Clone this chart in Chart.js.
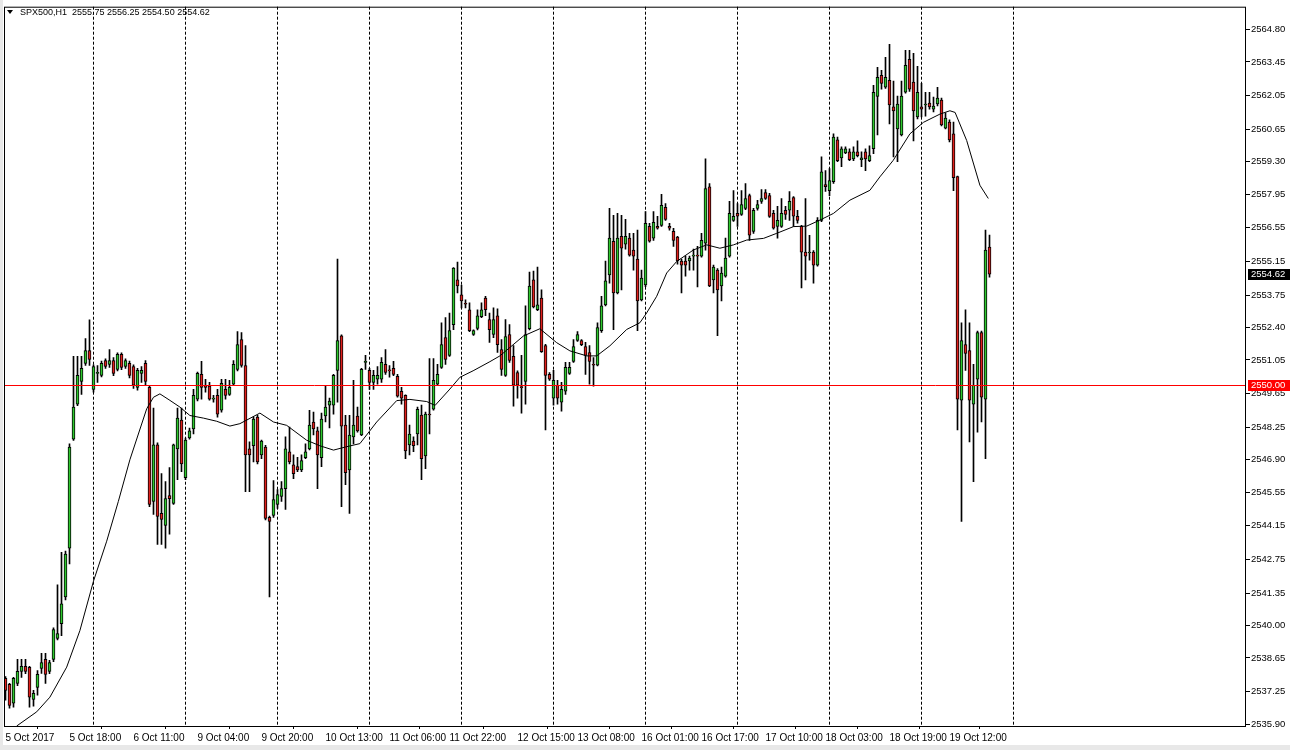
<!DOCTYPE html>
<html>
<head>
<meta charset="utf-8">
<script src="https://cdn.jsdelivr.net/npm/chart.js@4.4.1/dist/chart.umd.min.js"></script>
<style>
  html, body { margin: 0; padding: 0; background: #fff; }
  #wrap { width: 1290px; height: 750px; position: relative; }
</style>
</head>
<body>
<div id="wrap"><canvas id="chart"></canvas></div>
<script>
const symbol = "SPX500,H1";

// hourly candles, oldest first
const opens = [
  2537.80,2537.55,2536.77,2537.59,2538.09,2538.30,2538.26,2536.93,2537.43,2538.22,
  2538.59,2538.09,2538.59,2539.46,2540.08,2541.19,2543.22,2547.76,2549.21,2550.16,
  2550.91,2551.44,2549.83,2550.49,2550.41,2551.03,2550.87,2551.03,2550.66,2551.28,
  2550.78,2550.91,2550.78,2549.91,2550.49,2550.91,2549.91,2545.16,2547.52,2544.67,
  2544.17,2545.41,2545.08,2547.35,2548.55,2546.15,2547.81,2548.18,2549.42,2550.45,
  2550.00,2549.96,2549.42,2549.58,2548.96,2549.83,2549.62,2550.04,2550.66,2551.90,
  2550.82,2547.35,2547.48,2548.67,2547.10,2547.43,2544.50,2544.58,2545.04,2545.37,
  2545.70,2547.23,2546.69,2546.61,2546.48,2546.98,2547.35,2548.47,2548.10,2546.98,
  2548.72,2549.17,2549.17,2550.62,2552.06,2548.34,2546.48,2547.85,2548.72,2547.93,
  2550.95,2550.62,2550.12,2550.25,2550.25,2550.87,2550.62,2550.70,2550.37,2549.75,
  2549.58,2547.52,2547.68,2547.97,2548.76,2547.06,2548.80,2549.00,2550.04,2550.74,
  2551.98,2551.24,2552.52,2554.38,2553.76,2553.39,2553.14,2552.11,2552.36,2552.85,
  2553.63,2552.73,2552.11,2552.89,2551.48,2550.41,2552.11,2551.20,2550.53,2549.92,
  2550.16,2552.35,2554.38,2553.14,2553.63,2551.65,2550.45,2549.46,2550.00,2549.29,
  2549.75,2550.49,2550.99,2551.86,2551.86,2551.61,2551.36,2550.87,2550.83,2552.27,
  2553.34,2554.59,2555.99,2553.84,2556.20,2555.87,2556.12,2555.62,2555.25,2553.55,
  2554.17,2556.61,2556.12,2556.61,2556.65,2557.40,2556.61,2556.40,2556.16,2555.17,
  2555.17,2555.17,2555.37,2555.40,2555.37,2555.91,2558.26,2554.38,2554.79,2554.13,
  2554.54,2555.37,2556.86,2557.15,2557.11,2557.36,2557.89,2556.40,2557.36,2557.65,
  2558.02,2557.89,2557.15,2556.61,2556.61,2557.28,2557.28,2557.81,2557.03,2556.61,
  2555.54,2555.50,2555.54,2555.00,2556.86,2558.35,2558.10,2558.47,2560.21,2559.46,
  2559.67,2559.71,2559.42,2559.71,2559.38,2559.71,2559.34,2559.84,2562.02,2562.89,
  2562.40,2562.69,2561.58,2560.66,2560.41,2562.19,2563.56,2562.61,2561.16,2561.58,
  2561.66,2561.74,2561.49,2561.70,2561.86,2560.70,2560.95,2560.46,2558.68,2549.38,
  2551.69,2551.44,2549.21,2550.25,2552.19,2549.42,2555.75
];
const highs = [
  2537.88,2537.60,2537.85,2538.59,2538.59,2538.59,2538.30,2537.30,2538.13,2538.84,
  2538.84,2538.55,2539.90,2541.69,2543.05,2543.10,2547.56,2551.20,2551.20,2551.20,
  2551.94,2552.72,2550.85,2550.82,2551.00,2551.10,2551.48,2551.15,2551.35,2551.35,
  2551.10,2551.00,2550.85,2550.70,2550.78,2551.03,2549.95,2549.05,2547.60,2546.32,
  2545.99,2546.57,2547.55,2549.05,2549.05,2547.80,2548.22,2549.83,2550.55,2550.99,
  2550.24,2550.12,2549.58,2549.83,2550.24,2550.24,2550.20,2551.03,2552.23,2552.19,
  2551.65,2547.64,2548.67,2548.75,2547.72,2547.50,2544.55,2546.03,2545.66,2545.99,
  2547.85,2548.26,2547.10,2547.00,2547.10,2547.56,2548.96,2548.88,2548.26,2548.84,
  2550.00,2549.46,2550.45,2555.25,2552.10,2548.75,2548.75,2550.20,2549.09,2550.70,
  2551.24,2550.70,2550.62,2550.78,2551.15,2551.48,2550.82,2550.99,2550.45,2549.91,
  2549.60,2548.34,2547.85,2549.09,2549.17,2548.88,2551.11,2551.11,2550.87,2552.60,
  2552.81,2553.00,2554.90,2555.12,2554.17,2553.55,2553.43,2552.30,2553.14,2553.43,
  2553.70,2553.00,2553.22,2553.18,2551.90,2552.73,2552.52,2551.65,2550.60,2551.24,
  2553.30,2554.71,2554.75,2554.92,2553.97,2551.70,2550.53,2550.62,2550.20,2550.12,
  2550.95,2550.95,2551.90,2552.23,2551.90,2551.78,2551.65,2551.15,2552.60,2553.70,
  2555.17,2557.36,2557.07,2557.15,2557.07,2556.90,2556.32,2556.32,2556.45,2554.79,
  2557.23,2556.74,2557.23,2557.03,2557.94,2557.56,2556.74,2556.53,2556.20,2555.25,
  2555.37,2555.37,2555.66,2555.78,2556.32,2559.42,2558.39,2555.00,2554.85,2554.92,
  2556.12,2557.65,2558.10,2557.56,2558.10,2558.39,2557.95,2557.36,2557.69,2558.14,
  2558.14,2557.98,2557.28,2557.44,2557.77,2557.44,2558.06,2557.85,2557.28,2556.65,
  2557.77,2556.24,2555.60,2556.98,2559.50,2558.93,2559.01,2560.46,2560.33,2559.92,
  2559.92,2559.84,2559.92,2560.17,2559.71,2559.84,2559.96,2562.48,2563.23,2563.10,
  2563.64,2564.18,2562.65,2562.03,2562.65,2563.93,2563.93,2563.81,2563.27,2562.56,
  2562.19,2562.19,2561.99,2562.40,2561.95,2561.33,2561.04,2560.95,2558.70,2552.60,
  2553.14,2552.60,2550.87,2552.25,2552.25,2556.45,2556.25
];
const lows = [
  2536.89,2536.56,2536.60,2537.50,2537.84,2538.00,2536.60,2536.64,2537.10,2538.01,
  2537.59,2538.00,2538.50,2539.40,2539.58,2541.07,2542.56,2547.70,2549.15,2549.62,
  2550.82,2550.82,2549.71,2550.12,2550.35,2550.70,2550.74,2550.40,2550.60,2550.65,
  2550.70,2550.30,2549.87,2549.79,2550.12,2550.00,2544.95,2544.62,2543.38,2543.38,
  2543.22,2543.80,2545.04,2546.07,2546.40,2546.07,2547.75,2547.97,2549.35,2549.42,
  2549.71,2549.38,2549.29,2548.67,2548.88,2549.42,2549.58,2550.00,2550.60,2550.75,
  2545.57,2545.57,2546.81,2546.73,2546.94,2544.40,2541.19,2544.50,2544.87,2545.16,
  2544.83,2546.73,2546.11,2546.40,2546.40,2546.94,2547.31,2547.93,2545.70,2546.61,
  2548.47,2548.22,2548.80,2549.29,2544.95,2545.86,2544.67,2547.56,2548.05,2547.90,
  2550.66,2549.83,2549.83,2550.04,2550.12,2550.45,2550.33,2550.40,2549.50,2549.21,
  2546.94,2547.10,2547.23,2547.52,2546.07,2546.53,2547.97,2548.96,2550.00,2550.70,
  2550.87,2551.20,2552.31,2553.84,2553.22,2553.22,2552.23,2552.07,2552.30,2552.81,
  2552.89,2551.78,2551.98,2551.36,2550.41,2550.37,2550.95,2549.13,2549.46,2548.84,
  2549.21,2552.30,2553.22,2553.10,2551.36,2548.14,2550.20,2549.17,2549.21,2548.92,
  2549.62,2550.45,2550.95,2551.82,2551.65,2550.45,2550.04,2549.96,2550.80,2552.20,
  2553.30,2554.25,2552.31,2553.80,2553.97,2555.66,2555.37,2554.79,2552.27,2553.51,
  2554.10,2555.95,2556.03,2556.49,2556.61,2556.86,2556.45,2555.78,2555.04,2553.84,
  2554.54,2554.79,2554.79,2554.09,2555.33,2555.62,2554.10,2553.84,2552.06,2553.51,
  2554.50,2555.33,2556.82,2556.61,2557.07,2557.30,2556.03,2556.32,2557.28,2557.56,
  2557.73,2556.98,2556.49,2556.12,2556.57,2556.90,2556.86,2556.61,2556.74,2554.05,
  2554.38,2555.20,2554.25,2554.95,2556.80,2558.06,2557.89,2558.40,2559.30,2559.09,
  2559.63,2559.34,2559.34,2559.50,2559.09,2558.93,2559.30,2559.63,2560.41,2562.32,
  2562.35,2560.87,2559.50,2559.30,2560.37,2562.15,2562.23,2560.17,2561.08,2561.16,
  2561.20,2561.49,2561.37,2561.62,2560.79,2560.66,2560.12,2558.10,2548.14,2544.33,
  2550.62,2547.64,2545.99,2548.05,2548.47,2546.94,2554.50
];
const closes = [
  2537.30,2536.68,2537.80,2538.09,2538.30,2538.09,2537.02,2537.18,2537.97,2538.46,
  2537.97,2538.46,2539.83,2539.67,2540.90,2542.97,2547.43,2549.09,2550.41,2550.70,
  2551.44,2551.07,2550.78,2550.53,2550.91,2550.78,2551.03,2550.49,2551.28,2550.74,
  2551.03,2550.41,2550.00,2550.62,2550.62,2550.16,2545.04,2547.52,2544.54,2544.42,
  2545.28,2545.28,2547.52,2548.63,2546.73,2547.72,2548.10,2549.58,2550.49,2549.91,
  2549.91,2549.42,2549.45,2548.80,2550.08,2549.58,2549.91,2550.87,2551.69,2550.82,
  2547.10,2547.10,2548.59,2546.81,2547.68,2544.46,2544.33,2545.24,2545.45,2545.70,
  2547.35,2546.81,2546.32,2546.48,2546.86,2547.23,2548.34,2548.18,2547.10,2548.59,
  2549.09,2549.34,2550.41,2551.86,2548.30,2546.36,2547.93,2548.34,2548.10,2550.66,
  2550.99,2550.12,2550.41,2550.41,2550.95,2550.53,2550.60,2550.45,2549.54,2549.46,
  2547.27,2547.97,2547.48,2549.00,2546.94,2548.80,2548.76,2550.20,2550.45,2551.69,
  2551.07,2552.27,2554.87,2554.13,2553.51,2553.37,2552.27,2552.27,2552.89,2553.14,
  2553.14,2552.31,2552.73,2551.69,2550.66,2552.02,2551.03,2550.00,2550.00,2549.90,
  2552.11,2554.13,2553.26,2553.34,2551.40,2550.41,2550.25,2550.20,2549.46,2549.83,
  2550.74,2550.74,2551.61,2552.11,2551.69,2551.24,2550.99,2550.83,2552.40,2553.30,
  2554.34,2556.12,2553.84,2556.12,2555.70,2556.20,2555.41,2555.37,2553.51,2554.46,
  2556.74,2555.99,2556.78,2556.53,2557.48,2556.90,2556.53,2556.03,2555.17,2555.00,
  2555.00,2555.29,2555.40,2555.37,2556.03,2558.18,2554.13,2554.92,2553.97,2554.67,
  2555.29,2557.15,2557.03,2557.03,2557.52,2557.77,2556.24,2557.28,2557.52,2557.77,
  2557.77,2557.02,2556.53,2556.86,2557.15,2557.11,2557.65,2557.03,2556.86,2555.54,
  2555.37,2555.54,2555.00,2556.86,2558.88,2558.26,2558.51,2560.33,2559.34,2559.84,
  2559.84,2559.38,2559.71,2559.55,2559.46,2559.42,2559.55,2562.19,2562.81,2562.56,
  2562.81,2561.66,2561.41,2561.70,2562.03,2563.31,2562.32,2561.41,2562.19,2561.49,
  2561.68,2561.58,2561.62,2561.95,2560.83,2561.12,2560.21,2558.64,2549.42,2551.86,
  2551.32,2549.38,2550.00,2552.19,2549.50,2555.62,2554.62
];

// moving average, sampled along the curve (bar index, value)
const maBars = [
  2.8, 7.8, 11.1, 15.3, 18.6, 22.0, 25.3, 28.2, 31.1, 35.3, 37.0, 38.6, 41.1, 43.6,
  46.1, 49.5, 52.8, 56.1, 58.6, 63.6, 67.0, 70.3, 75.3, 78.6, 82.0, 85.0, 88.6, 92.8,
  97.8, 101.1, 105.3, 107.4, 111.1, 113.6, 116.9, 121.1, 123.6, 129.5, 133.6, 137.8,
  141.1, 145.3, 147.8, 151.1, 155.3, 158.6, 160.3, 162.8, 165.3, 167.8, 172.0, 175.3,
  178.6, 182.0, 185.3, 189.5, 192.8, 197.0, 200.3, 203.6, 207.0, 211.1, 216.1, 218.6,
  221.9, 226.1, 229.5, 233.6, 236.1, 237.4, 240.3, 243.6, 245.7
];
const maValues = [
  2535.82, 2536.41, 2537.02, 2538.27, 2539.79, 2541.85, 2543.51, 2545.16, 2546.90,
  2549.02, 2549.50, 2549.64, 2549.37, 2549.09, 2548.74, 2548.63, 2548.50, 2548.30,
  2548.40, 2548.84, 2548.47, 2548.33, 2547.71, 2547.48, 2547.30, 2547.43, 2547.57,
  2548.47, 2549.36, 2549.41, 2549.32, 2549.16, 2549.84, 2550.33, 2550.60, 2550.98,
  2551.22, 2552.05, 2552.35, 2551.77, 2551.43, 2551.22, 2551.22, 2551.64, 2552.32,
  2552.60, 2553.01, 2553.70, 2554.67, 2555.15, 2555.63, 2555.84, 2555.70, 2555.84,
  2556.04, 2556.11, 2556.32, 2556.60, 2556.62, 2556.87, 2557.15, 2557.70, 2558.11,
  2558.67, 2559.35, 2560.46, 2560.94, 2561.28, 2561.42, 2561.35, 2560.18, 2558.32,
  2557.77
];

const tickBars = [0, 16, 32, 48, 64, 80, 96, 111, 128, 143, 159, 174, 190, 205, 221, 236];
const tickLabels = [
  "5 Oct 2017", "5 Oct 18:00", "6 Oct 11:00", "9 Oct 04:00", "9 Oct 20:00",
  "10 Oct 13:00", "11 Oct 06:00", "11 Oct 22:00", "12 Oct 15:00", "13 Oct 08:00",
  "16 Oct 01:00", "16 Oct 17:00", "17 Oct 10:00", "18 Oct 03:00", "18 Oct 19:00",
  "19 Oct 12:00"
];
const separatorBars = [22, 45, 68, 91, 114, 137, 160, 183, 206, 229, 252];
const priceTicks = [
  2564.80, 2563.45, 2562.05, 2560.65, 2559.30, 2557.95, 2556.55, 2555.15, 2553.75,
  2552.40, 2551.05, 2549.65, 2548.25, 2546.90, 2545.55, 2544.15, 2542.75, 2541.35,
  2540.00, 2538.65, 2537.25, 2535.90
];
const levelLine = 2550.00;

const bodies = opens.map((o, i) => ({ x: i, y: [o, closes[i]] }));
const wicks = highs.map((h, i) => ({ x: i, y: [lows[i], h] }));
const bodyColors = opens.map((o, i) => closes[i] >= o ? "#2ec82e" : "#e0201c");
const ma = maBars.map((b, i) => ({ x: b, y: maValues[i] }));

const labelFont = '"Liberation Sans", Arial, sans-serif';

const decor = {
  id: "decor",
  beforeDraw(chart) {
    const { ctx, width, height } = chart;
    ctx.save();
    ctx.fillStyle = "#fff";
    ctx.fillRect(0, 0, width, height);
    ctx.fillStyle = "#e8e8e8";
    ctx.fillRect(0, 0, 3, height);
    ctx.fillRect(0, 745, width, 5);
    ctx.restore();
  },
  beforeDatasetsDraw(chart) {
    const { ctx, chartArea: a, scales: { x } } = chart;
    ctx.save();
    ctx.strokeStyle = "#000";
    ctx.lineWidth = 1;
    ctx.setLineDash([3, 2]);
    separatorBars.forEach(b => {
      const px = Math.round(x.getPixelForValue(b) - 0.5) + 0.5;
      ctx.beginPath();
      ctx.moveTo(px, a.top);
      ctx.lineTo(px, a.bottom);
      ctx.stroke();
    });
    ctx.restore();
  },
  afterDatasetsDraw(chart) {
    const { ctx, chartArea: a, scales: { y } } = chart;
    const py = Math.round(y.getPixelForValue(levelLine)) + 0.5;
    ctx.save();
    ctx.strokeStyle = "#ff0000";
    ctx.lineWidth = 1;
    ctx.beginPath();
    ctx.moveTo(a.left, py);
    ctx.lineTo(a.right, py);
    ctx.stroke();
    ctx.restore();
  },
  afterDraw(chart) {
    const { ctx, chartArea: a, scales: { y } } = chart;
    ctx.save();
    // frame
    ctx.strokeStyle = "#000";
    ctx.lineWidth = 1;
    ctx.strokeRect(a.left + 0.5, a.top + 0.5, a.right - a.left - 1, a.bottom - a.top);

    // price boxes on the axis
    const box = (value, bg) => {
      const py = Math.round(y.getPixelForValue(value));
      ctx.fillStyle = bg;
      ctx.fillRect(a.right + 2, py - 5, 42, 11);
      ctx.fillStyle = "#fff";
      ctx.font = "9.5px " + labelFont;
      ctx.textBaseline = "middle";
      ctx.textAlign = "left";
      ctx.fillText(value.toFixed(2), a.right + 5, py + 0.5);
    };
    box(levelLine, "#ff0000");
    box(closes[closes.length - 1], "#000");

    // title line
    const n = opens.length - 1;
    ctx.fillStyle = "#000";
    ctx.beginPath();
    ctx.moveTo(7, 10);
    ctx.lineTo(13, 10);
    ctx.lineTo(10, 14);
    ctx.closePath();
    ctx.fill();
    ctx.font = "9px " + labelFont;
    ctx.textBaseline = "middle";
    ctx.textAlign = "left";
    const title = symbol + "  " + [opens[n], highs[n], lows[n], closes[n]].map(v => v.toFixed(2)).join(" ");
    ctx.fillText(title, 20, 12.5);
    ctx.restore();
  }
};

new Chart(document.getElementById("chart"), {
  type: "bar",
  data: {
    datasets: [
      {
        type: "line",
        data: ma,
        borderColor: "#000",
        borderWidth: 1,
        pointRadius: 0,
        tension: 0,
        order: 1
      },
      {
        data: bodies,
        backgroundColor: bodyColors,
        borderColor: "#000",
        borderWidth: 1,
        borderSkipped: false,
        barThickness: 3,
        minBarLength: 1,
        grouped: false,
        order: 2
      },
      {
        data: wicks,
        backgroundColor: "#000",
        borderWidth: 0,
        barThickness: 1,
        minBarLength: 1,
        grouped: false,
        order: 3
      }
    ]
  },
  options: {
    responsive: true,
    maintainAspectRatio: false,
    devicePixelRatio: 1,
    animation: false,
    layout: { padding: { left: 4, top: 2, right: 0, bottom: 0 } },
    plugins: { legend: { display: false }, tooltip: { enabled: false } },
    scales: {
      x: {
        type: "linear",
        position: "bottom",
        min: -0.375,
        max: 310.125,
        offset: false,
        bounds: "data",
        afterBuildTicks: s => { s.ticks = tickBars.map(v => ({ value: v })); },
        afterFit: s => { s.height = 24; },
        ticks: {
          autoSkip: false,
          maxRotation: 0,
          align: "start",
          padding: 3,
          color: "#000",
          font: { family: labelFont, size: 10 },
          callback: (v, i) => tickLabels[i]
        },
        grid: { drawOnChartArea: false, tickLength: 3, color: "#000" },
        border: { display: false }
      },
      y: {
        type: "linear",
        position: "right",
        min: 2535.82,
        max: 2565.75,
        bounds: "data",
        afterBuildTicks: s => { s.ticks = priceTicks.map(v => ({ value: v })); },
        afterFit: s => { s.width = 44; },
        ticks: {
          padding: 1,
          color: "#000",
          font: { family: labelFont, size: 9.5 },
          callback: v => Number(v).toFixed(2)
        },
        grid: { drawOnChartArea: false, tickLength: 4, color: "#000" },
        border: { display: false }
      }
    }
  },
  plugins: [decor]
});
</script>
</body>
</html>
